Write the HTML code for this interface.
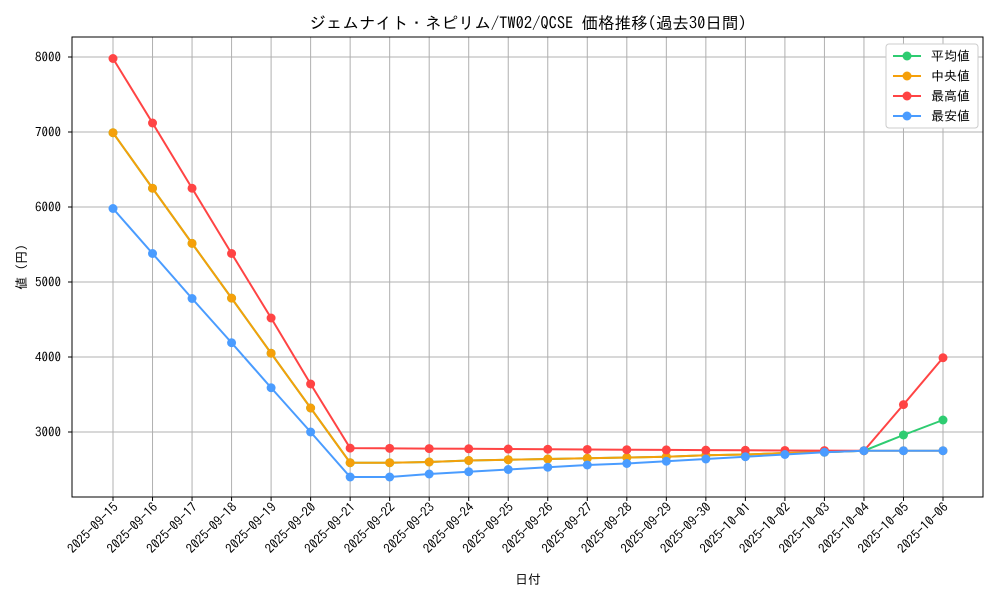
<!DOCTYPE html>
<html><head><meta charset="utf-8"><style>
body{margin:0;background:#fff}
svg text{font-family:"IPAGothic","Noto Sans CJK JP",monospace;fill:#000}
</style></head><body>
<svg id="c" width="1000" height="600"></svg>
<script>
const dates=["2025-09-15","2025-09-16","2025-09-17","2025-09-18","2025-09-19","2025-09-20","2025-09-21","2025-09-22","2025-09-23","2025-09-24","2025-09-25","2025-09-26","2025-09-27","2025-09-28","2025-09-29","2025-09-30","2025-10-01","2025-10-02","2025-10-03","2025-10-04","2025-10-05","2025-10-06"];
const meanVals=[6990,6250,5515,4785,4050,3320,2590,2590,2600,2620,2630,2640,2650,2660,2670,2690,2700,2720,2730,2750,2960,3160];
const medianVals=[6990,6250,5515,4785,4050,3320,2590,2590,2600,2620,2630,2640,2650,2660,2670,2690,2700,2720,2730,2750,2750,2750];
const maxVals=[7980,7120,6250,5380,4520,3640,2785,2782,2779,2776,2773,2770,2767,2764,2761,2758,2756,2754,2752,2750,3365,3990];
const minVals=[5980,5380,4780,4190,3590,3000,2400,2400,2440,2470,2500,2530,2560,2580,2610,2640,2670,2700,2730,2750,2750,2750];
const yTicks=[3000,4000,5000,6000,7000,8000];
const NS="http://www.w3.org/2000/svg";
const svg=document.getElementById('c');
const L=72,R=983,T=37,B=497;
const x=i=>113+i*(943-113)/(dates.length-1);
const y=v=>57+(8000-v)*0.075;
function el(t,a,p){const e=document.createElementNS(NS,t);for(const k in a)e.setAttribute(k,a[k]);(p||svg).appendChild(e);return e;}
dates.forEach((d,i)=>{
  const g=el('line',{x1:x(i),x2:x(i),y1:T,y2:B,stroke:'#b0b0b0','stroke-width':1});
  
  
  el('line',{x1:x(i),x2:x(i),y1:B,y2:B+4,stroke:'#000'});
  const t=el('text',{x:x(i)+6,y:B+11,'font-size':13,'text-anchor':'end',transform:`rotate(-45 ${x(i)+6} ${B+11})`});
  t.textContent=d;
  
  
});
yTicks.forEach(v=>{
  const g=el('line',{x1:L,x2:R,y1:y(v),y2:y(v),stroke:'#b0b0b0','stroke-width':1});
  
  
  el('line',{x1:L-4,x2:L,y1:y(v),y2:y(v),stroke:'#000'});
  const t=el('text',{x:L-11,y:y(v)+4.5,'font-size':13,'text-anchor':'end'});
  t.textContent=v;
  
  
});
const fr=el('rect',{x:L,y:T,width:R-L,height:B-T,fill:'none',stroke:'#000','stroke-width':1});


const series=[["mean",meanVals,"#2ecc71","平均値"],["median",medianVals,"#f5a00a","中央値"],["max",maxVals,"#ff4444","最高値"],["min",minVals,"#4a9cff","最安値"]];
series.forEach(([n,vals,c])=>{
  const p=el('polyline',{points:vals.map((v,i)=>x(i)+','+y(v)).join(' '),fill:'none',stroke:c,'stroke-width':2});
  
  
  vals.forEach((v,i)=>{
    const m=el('circle',{cx:x(i),cy:y(v),r:4.5,fill:c});
    
    
  });
});
const lg=el('g',{});


el('rect',{x:886,y:44,width:92,height:84,fill:'#fff',stroke:'#ccc',rx:3},lg);
series.forEach(([n,vals,c,label],k)=>{
  const yy=56+k*20;
  const g=el('g',{},lg);
  
  
  el('line',{x1:893,x2:921,y1:yy,y2:yy,stroke:c,'stroke-width':2},g);
  el('circle',{cx:907,cy:yy,r:4.5,fill:c},g);
  const t=el('text',{x:931,y:yy+4.5,'font-size':13},g);t.textContent=label;
});
const tt=el('text',{x:528,y:29,'font-size':16.5,'text-anchor':'middle'});
tt.textContent="ジェムナイト・ネピリム/TW02/QCSE 価格推移(過去30日間)";


const xt=el('text',{x:528,y:584,'font-size':13,'text-anchor':'middle'});
xt.textContent="日付";


const yt=el('text',{x:26,y:267,'font-size':13,'text-anchor':'middle',transform:'rotate(-90 26 267)'});
yt.textContent="値 (円)";


</script>
</body></html>
